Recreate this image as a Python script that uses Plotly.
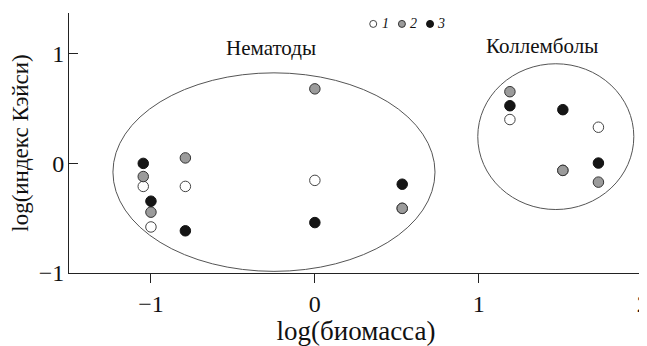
import plotly.graph_objects as go

# ---- data ----
series_names = ["1", "2", "3"]
x1 = [-1.047, -1.0, -0.79, 0.0, 0.533, 1.19, 1.513, 1.73]
y1 = [-0.21, -0.58, -0.21, -0.155, -0.41, 0.40, -0.064, 0.33]
x2 = [-1.047, -1.0, -0.79, 0.0, 0.533, 1.19, 1.513, 1.73]
y2 = [-0.12, -0.445, 0.05, 0.68, -0.41, 0.654, -0.064, -0.171]
x3 = [-1.047, -1.0, -0.79, 0.0, 0.533, 1.19, 1.513, 1.73]
y3 = [0.0, -0.345, -0.615, -0.54, -0.19, 0.526, 0.49, 0.003]

group_labels = ["Нематоды", "Коллемболы"]
group_label_x = [-0.27, 1.387]
group_label_y = [1.055, 1.067]
# ellipse bounds (data units): x0, x1, y0, y1
ellipse_nem = [-1.232, 0.733, -0.985, 0.826]
ellipse_col = [0.994, 1.946, -0.421, 0.909]

x_ticks = [-1, 0, 1, 2]
y_ticks = [-1, 0, 1]
x_title = "log(биомасса)"
y_title = "log(индекс Кэйси)"

# ---- style ----
FONT = "Liberation Serif, Times New Roman, serif"
fills = ["#ffffff", "#9b9b9b", "#151515"]
outlines = ["#444444", "#333333", "#111111"]

# the page body has an 8px margin, so the figure is 8px smaller on each side
W, H = 639, 338
ML, MT = 61, 5.3
PW, PH = 573.7, 259.4

fig = go.Figure()
for xs, ys, fc, lc, nm in zip([x1, x2, x3], [y1, y2, y3], fills, outlines, series_names):
    fig.add_trace(go.Scatter(
        x=xs, y=ys, mode="markers", name=nm, showlegend=False,
        marker=dict(size=10.5, color=fc, line=dict(color=lc, width=1)),
        hoverinfo="x+y",
    ))

shapes = []
for b in (ellipse_nem, ellipse_col):
    shapes.append(dict(type="circle", xref="x", yref="y",
                       x0=b[0], x1=b[1], y0=b[2], y1=b[3],
                       line=dict(color="#555555", width=1), layer="below"))

# custom compact legend (paper coords)
leg_key_x = [0.530, 0.580, 0.629]
leg_txt_x = [0.551, 0.600, 0.648]
leg_y = 0.958
for kx, fc, lc in zip(leg_key_x, fills, outlines):
    shapes.append(dict(type="circle", xref="paper", yref="paper",
                       xsizemode="pixel", ysizemode="pixel",
                       xanchor=kx, yanchor=leg_y,
                       x0=-3.5, x1=3.5, y0=-3.5, y1=3.5,
                       fillcolor=fc, line=dict(color=lc, width=1)))

annotations = []
for tx, nm in zip(leg_txt_x, series_names):
    annotations.append(dict(x=tx, y=leg_y, xref="paper", yref="paper",
                            text="<i>" + nm + "</i>", showarrow=False,
                            font=dict(family=FONT, size=14, color="#111"),
                            xanchor="center", yanchor="middle"))
for lbl, lx, ly in zip(group_labels, group_label_x, group_label_y):
    annotations.append(dict(x=lx, y=ly, xref="x", yref="y", text=lbl,
                            showarrow=False,
                            font=dict(family=FONT, size=21, color="#111"),
                            xanchor="center", yanchor="middle"))

fig.update_layout(
    width=W, height=H,
    margin=dict(l=ML, r=W - ML - PW, t=MT, b=H - MT - PH, pad=0),
    paper_bgcolor="white", plot_bgcolor="white",
    font=dict(family=FONT, color="#111"),
    shapes=shapes, annotations=annotations,
    xaxis=dict(range=[-1.5, 2.002], tickvals=x_ticks,
               ticktext=["\u22121", "0", "1", "2"],
               showline=True, linecolor="#222", linewidth=1,
               ticks="outside", ticklen=9, tickcolor="#222",
               showgrid=False, zeroline=False, automargin=False,
               ticklabeloverflow="allow",
               tickfont=dict(family=FONT, size=24, color="#111"),
               title=dict(text=x_title, font=dict(family=FONT, size=27, color="#111"), standoff=1)),
    yaxis=dict(range=[-1.0, 1.372], tickvals=y_ticks,
               ticktext=["\u22121", "0", "1"],
               showline=True, linecolor="#222", linewidth=1,
               ticks="inside", ticklen=9, tickcolor="#222",
               showgrid=False, zeroline=False, automargin=False,
               ticklabelstandoff=-1,
               tickfont=dict(family=FONT, size=24, color="#111"),
               title=dict(text=y_title, font=dict(family=FONT, size=23, color="#111"), standoff=6)),
)

fig.write_html("out.html")
